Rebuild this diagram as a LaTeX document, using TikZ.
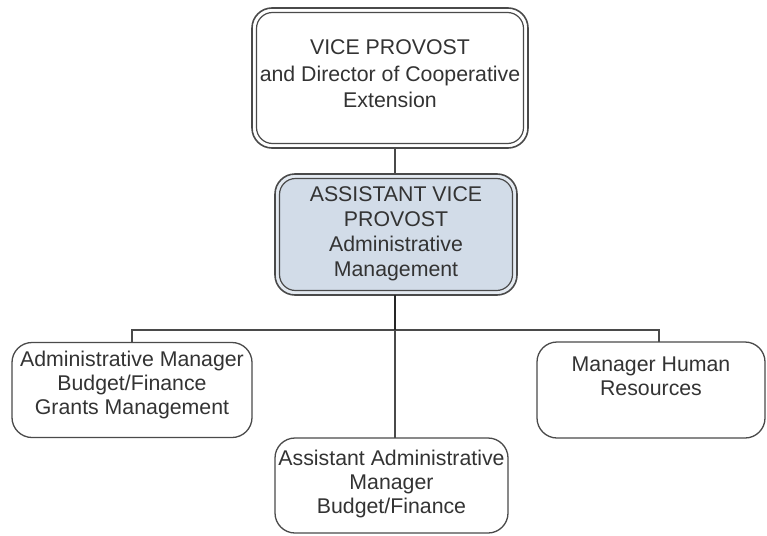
\documentclass[tikz,border=0pt]{standalone}
\usepackage{fontspec}
\setmainfont{Liberation Sans}
\definecolor{linec}{HTML}{4A4A4A}
\definecolor{txtc}{HTML}{333333}
\definecolor{fillc}{HTML}{D2DCE8}
\begin{document}
\begin{tikzpicture}[x=1pt,y=-1pt,
  outerbox/.style={draw=linec, line width=1.6pt, rounded corners=20pt, inner sep=0pt, fill=white},
  innerbox/.style={draw=linec, line width=1.2pt, rounded corners=16pt, inner sep=0pt},
  plainbox/.style={draw=linec, line width=1.3pt, rounded corners=20pt, inner sep=0pt, fill=white},
  txt/.style={align=center, text=txtc, font=\fontsize{21.3}{24}\selectfont, inner sep=0pt},
  conn/.style={draw=linec, line width=1.3pt},
  thick conn/.style={draw=black!85, line width=2.2pt}]
\useasboundingbox (0,0) rectangle (767,535);
% top box
\node[outerbox, minimum width=276pt, minimum height=140pt] (vp) at (390,78) {};
\node[innerbox, minimum width=267pt, minimum height=131pt] (vpi) at (390,78) {};
\node[txt, font=\fontsize{21.3}{26.5}\selectfont] (vpt) at (390,74) {VICE PROVOST\\and Director of Cooperative\\Extension};
% middle box
\node[outerbox, fill=fillc!60, minimum width=242pt, minimum height=121pt] (avp) at (396,234.5) {};
\node[innerbox, fill=fillc, minimum width=233pt, minimum height=112pt] (avpi) at (396,234.5) {};
\node[txt, font=\fontsize{21.3}{25}\selectfont] (avpt) at (396,234) {ASSISTANT VICE\\PROVOST\\Administrative\\Management};
% lower boxes
\node[plainbox, minimum width=240pt, minimum height=95pt] (am) at (132,390) {};
\node[txt] (amt) at (132,385) {Administrative Manager\\Budget/Finance\\Grants Management};
\node[plainbox, minimum width=233pt, minimum height=95pt] (aam) at (391.5,485.5) {};
\node[txt] (aamt) at (391.5,484) {Assistant Administrative\\Manager\\Budget/Finance};
\node[plainbox, minimum width=228pt, minimum height=96pt] (hr) at (651,390) {};
\node[txt] (hrt) at (651,376) {Manager Human\\Resources};
% connectors
\coordinate (vpbot) at (395,148);
\coordinate (avptop) at (395,174);
\coordinate (avpbot) at (395,295);
\coordinate (bus) at (395,330);
\coordinate (aamtop) at (395,438);
\coordinate (amtop) at (132,342.5);
\coordinate (hrtop) at (659,342);
\draw[conn] (vpbot) -- (avptop);
\draw[conn] (amtop) |- (bus) -| (hrtop);
\draw[conn] (bus) -- (aamtop);
\draw[thick conn] (avpbot) -- (bus);
\end{tikzpicture}
\end{document}
